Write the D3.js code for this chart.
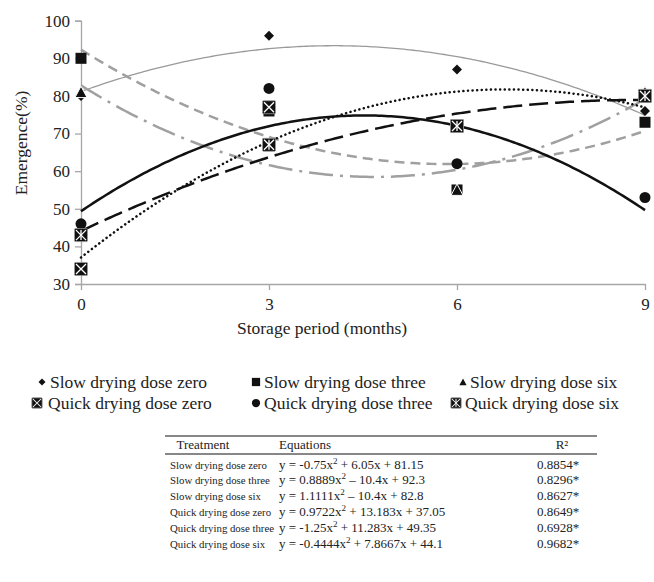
<!DOCTYPE html>
<html>
<head>
<meta charset="utf-8">
<script src="https://cdn.jsdelivr.net/npm/d3@7"></script>
<style>
  html, body { margin: 0; padding: 0; background: #fff; }
  svg { display: block; }
</style>
</head>
<body>
<svg id="chart" width="654" height="582" font-family="Liberation Serif"></svg>
<script>
// ---- data ----
const months = [0, 3, 6, 9];
const seriesNames = [
  "Slow drying dose zero", "Slow drying dose three", "Slow drying dose six",
  "Quick drying dose zero", "Quick drying dose three", "Quick drying dose six"
];
const slowZero   = [80, 96, 87, 76];
const slowThree  = [90, 76, 55, 73];
const slowSix    = [81, 67, 55, 81];
const quickZero  = [34, 77, 72, 80];
const quickThree = [46, 82, 62, 53];
const quickSix   = [43, 67, 72, 80];
// quadratic trend coefficients (y = a x^2 + b x + c)
const coefA = [-0.75, 0.8889, 1.1111, -0.9722, -1.25, -0.4444];
const coefB = [6.05, -10.4, -10.4, 13.183, 11.283, 7.8667];
const coefC = [81.15, 92.3, 82.8, 37.05, 49.35, 44.1];
const yTicks = [30, 40, 50, 60, 70, 80, 90, 100];
const xTicks = [0, 3, 6, 9];
const eqA = ["-0.75", "0.8889", "1.1111", "0.9722", "-1.25", "-0.4444"];
const eqRest = ["+ 6.05x + 81.15", "\u2013 10.4x + 92.3", "\u2013 10.4x + 82.8",
                "+ 13.183x + 37.05", "+ 11.283x + 49.35", "+ 7.8667x + 44.1"];
const r2Values = ["0.8854*", "0.8296*", "0.8627*", "0.8649*", "0.6928*", "0.9682*"];

const allValues = [slowZero, slowThree, slowSix, quickZero, quickThree, quickSix];

// ---- styles ----
const FONT = "Liberation Serif";
const markers = ["diamond", "square", "triangle", "xbox", "circle", "asterisk"];
const lineStyles = [
  { stroke: "#9a9a9a", width: 1.3, dash: null, cap: "butt" },
  { stroke: "#a0a0a0", width: 2.5, dash: "10,6", cap: "butt" },
  { stroke: "#a0a0a0", width: 2.5, dash: "24,7,3,7", cap: "butt" },
  { stroke: "#111", width: 2.5, dash: "0.1,4.5", cap: "round" },
  { stroke: "#111", width: 2.5, dash: null, cap: "butt" },
  { stroke: "#111", width: 2.5, dash: "19,7", cap: "butt" }
];

const svg = d3.select("#chart");
const x = d3.scaleLinear().domain([0, 9]).range([81, 645]);
const y = d3.scaleLinear().domain([30, 100]).range([284, 20.7]);
const axisColor = "#a6a6a6";

// y axis
const yAxis = svg.append("g").attr("transform", `translate(${x(0)},0)`)
  .call(d3.axisLeft(y).tickValues(yTicks).tickSize(6).tickPadding(5));
yAxis.attr("font-family", FONT);
yAxis.select(".domain").attr("stroke", axisColor).attr("stroke-width", 1.3);
yAxis.selectAll(".tick line").attr("stroke", axisColor).attr("stroke-width", 1.3);
yAxis.selectAll(".tick text").attr("font-size", 17).attr("fill", "#222");

// x axis
const xAxis = svg.append("g").attr("transform", `translate(0,${y(30)})`)
  .call(d3.axisBottom(x).tickValues(xTicks).tickSize(6).tickPadding(8).tickSizeOuter(0));
xAxis.attr("font-family", FONT);
xAxis.select(".domain").attr("stroke", axisColor).attr("stroke-width", 1.3);
xAxis.selectAll(".tick line").attr("stroke", axisColor).attr("stroke-width", 1.3);
xAxis.selectAll(".tick text").attr("font-size", 17).attr("fill", "#222");

// axis titles
svg.append("text").attr("x", 322).attr("y", 334).attr("text-anchor", "middle")
  .attr("font-size", 17.5).attr("fill", "#222").text("Storage period (months)");
svg.append("text").attr("transform", "translate(27,143) rotate(-90)")
  .attr("text-anchor", "middle").attr("font-size", 17.5).attr("fill", "#222").text("Emergence(%)");

// trend curves
const samples = d3.range(0, 9.0001, 0.05);
const line = d3.line().x(d => x(d[0])).y(d => y(d[1]));
seriesNames.forEach((n, i) => {
  const pts = samples.map(t => [t, coefA[i] * t * t + coefB[i] * t + coefC[i]]);
  const s = lineStyles[i];
  svg.append("path").attr("d", line(pts)).attr("fill", "none")
    .attr("stroke", s.stroke).attr("stroke-width", s.width)
    .attr("stroke-dasharray", s.dash).attr("stroke-linecap", s.cap);
});

// marker drawing
function drawMarker(g, type, cx, cy, sc, outline) {
  const k = sc || 1;
  if (type === "diamond") {
    const r = 5 * k;
    g.append("path").attr("d", `M${cx},${cy - r}L${cx + r},${cy}L${cx},${cy + r}L${cx - r},${cy}Z`).attr("fill", "#111");
  } else if (type === "square") {
    const h = 5.5 * k;
    g.append("rect").attr("x", cx - h).attr("y", cy - h).attr("width", 2 * h).attr("height", 2 * h).attr("fill", "#111");
  } else if (type === "triangle") {
    const h = 6 * k;
    const p = g.append("path").attr("d", `M${cx},${cy - h}L${cx + h},${cy + h * 0.9}L${cx - h},${cy + h * 0.9}Z`).attr("fill", "#111");
    if (outline) p.attr("stroke", "#fff").attr("stroke-width", 1).attr("stroke-linejoin", "miter");
  } else if (type === "circle") {
    g.append("circle").attr("cx", cx).attr("cy", cy).attr("r", 5.5 * k).attr("fill", "#111");
  } else if (type === "xbox" || type === "asterisk") {
    const h = 6.5 * k;
    g.append("rect").attr("x", cx - h).attr("y", cy - h).attr("width", 2 * h).attr("height", 2 * h)
      .attr("rx", 1).attr("fill", "#111").attr("stroke", "#999").attr("stroke-width", 0.8);
    const m = h - 1.5 * k;
    g.append("path").attr("d", `M${cx - m},${cy - m}L${cx + m},${cy + m}M${cx + m},${cy - m}L${cx - m},${cy + m}`)
      .attr("stroke", "#fff").attr("stroke-width", 1.3 * k);
    if (type === "asterisk") {
      g.append("path").attr("d", `M${cx},${cy - m}L${cx},${cy + m}`).attr("stroke", "#fff").attr("stroke-width", 1.3 * k);
    }
  }
}

// data points
const pg = svg.append("g");
allValues.forEach((vals, i) => {
  vals.forEach((v, j) => drawMarker(pg, markers[i], x(months[j]), y(v), 1, true));
});

// legend
const legCols = [{ mx: 42, tx: 50 }, { mx: 256, tx: 264 }, { mx: 463, tx: 470 }];
const legRows = [382, 403];
const legScale = [0.7, 0.75, 0.6, 0.8, 0.75, 0.8];
const lg = svg.append("g");
seriesNames.forEach((n, i) => {
  const col = legCols[i % 3], row = legRows[Math.floor(i / 3)];
  const mx = (markers[i] === "xbox") ? col.mx - 5 : (markers[i] === "asterisk" ? col.mx - 7 : col.mx);
  const tx = (markers[i] === "xbox") ? col.tx - 2 : (markers[i] === "asterisk" ? col.tx - 5 : col.tx);
  drawMarker(lg, markers[i], mx, row, legScale[i], false);
  lg.append("text").attr("x", tx).attr("y", row + 6).attr("font-size", 17.5).attr("fill", "#222").text(n);
});

// table
const tg = svg.append("g").attr("font-size", 13).attr("fill", "#222");
const tLeft = 165, tRight = 597;
const topLine = 436, headLine = 454;
tg.append("line").attr("x1", tLeft).attr("x2", tRight).attr("y1", topLine).attr("y2", topLine).attr("stroke", "#111").attr("stroke-width", 1);
tg.append("line").attr("x1", tLeft).attr("x2", tRight).attr("y1", headLine).attr("y2", headLine).attr("stroke", "#111").attr("stroke-width", 1);
tg.append("text").attr("x", 203).attr("y", 449).attr("text-anchor", "middle").text("Treatment");
tg.append("text").attr("x", 279).attr("y", 449).text("Equations");
tg.append("text").attr("x", 562).attr("y", 449).attr("text-anchor", "middle").text("R\u00B2");
const rowY = d3.scaleLinear().domain([0, 5]).range([468.5, 547.5]);
seriesNames.forEach((n, i) => {
  const by = rowY(i);
  tg.append("text").attr("x", 170).attr("y", by).attr("font-size", 10.8).text(n);
  const t = tg.append("text").attr("x", 279).attr("y", by);
  t.append("tspan").text(`y = ${eqA[i]}x`);
  t.append("tspan").attr("dy", -5).attr("font-size", 9).text("2");
  t.append("tspan").attr("dy", 5).text(` ${eqRest[i]}`);
  tg.append("text").attr("x", 537).attr("y", by).text(r2Values[i]);
});
</script>
</body>
</html>
